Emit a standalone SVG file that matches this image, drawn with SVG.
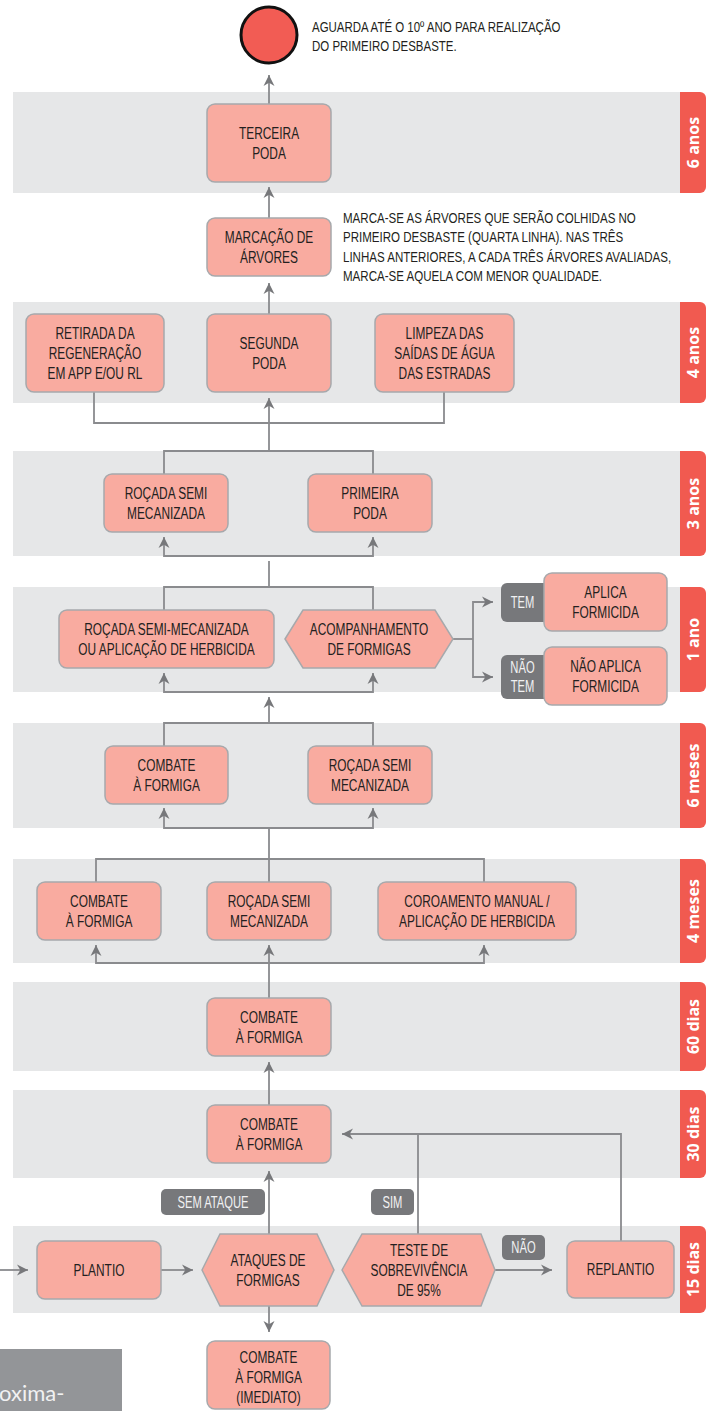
<svg xmlns="http://www.w3.org/2000/svg" width="715" height="1411" viewBox="0 0 715 1411">
<defs>
<style>
.band{fill:#e6e7e8}
.tab{fill:#f15a50}
.tabt{font-family:'Open Sans','Noto Sans',sans-serif;font-weight:700;font-size:16px;fill:#ffffff;text-anchor:middle;dominant-baseline:central}
.box{fill:#f9aba0;stroke:#a7a9ac;stroke-width:1.5}
.t{font-family:'Liberation Sans',Arial,sans-serif;font-size:17px;fill:#231f20;text-anchor:middle}
.note{font-family:'Liberation Sans',Arial,sans-serif;font-size:15px;fill:#231f20}
.lab{fill:#77787b}
.lt{font-family:'Liberation Sans',Arial,sans-serif;font-size:16px;fill:#f1f1f2;text-anchor:middle}
.c{fill:none;stroke:#8a8b8e;stroke-width:1.8}
.a{marker-end:url(#arr)}
</style>
<marker id="arr" viewBox="0 0 10 10" refX="10" refY="5" markerWidth="11" markerHeight="12" markerUnits="userSpaceOnUse" orient="auto">
<path d="M0,0 L10,5 L0,10 L3,5 Z" fill="#77787b"/>
</marker>
</defs>

<g id="bands">
<rect class="band" x="13" y="92" width="677" height="101"/>
<path class="tab" d="M680,92 H700 a6,6 0 0 1 6,6 V187 a6,6 0 0 1 -6,6 H680 Z"/>
<text class="tabt" transform="translate(693,142.5) rotate(-90)">6 anos</text>
<rect class="band" x="13" y="302" width="677" height="101"/>
<path class="tab" d="M680,302 H700 a6,6 0 0 1 6,6 V397 a6,6 0 0 1 -6,6 H680 Z"/>
<text class="tabt" transform="translate(693,352.5) rotate(-90)">4 anos</text>
<rect class="band" x="13" y="451" width="677" height="105"/>
<path class="tab" d="M680,451 H700 a6,6 0 0 1 6,6 V550 a6,6 0 0 1 -6,6 H680 Z"/>
<text class="tabt" transform="translate(693,503.5) rotate(-90)">3 anos</text>
<rect class="band" x="13" y="587" width="677" height="105"/>
<path class="tab" d="M680,587 H700 a6,6 0 0 1 6,6 V686 a6,6 0 0 1 -6,6 H680 Z"/>
<text class="tabt" transform="translate(693,639.5) rotate(-90)">1 ano</text>
<rect class="band" x="13" y="723" width="677" height="105"/>
<path class="tab" d="M680,723 H700 a6,6 0 0 1 6,6 V822 a6,6 0 0 1 -6,6 H680 Z"/>
<text class="tabt" transform="translate(693,775.5) rotate(-90)">6 meses</text>
<rect class="band" x="13" y="859" width="677" height="104"/>
<path class="tab" d="M680,859 H700 a6,6 0 0 1 6,6 V957 a6,6 0 0 1 -6,6 H680 Z"/>
<text class="tabt" transform="translate(693,911) rotate(-90)">4 meses</text>
<rect class="band" x="13" y="982" width="677" height="89"/>
<path class="tab" d="M680,982 H700 a6,6 0 0 1 6,6 V1065 a6,6 0 0 1 -6,6 H680 Z"/>
<text class="tabt" transform="translate(693,1026.5) rotate(-90)">60 dias</text>
<rect class="band" x="13" y="1090" width="677" height="88"/>
<path class="tab" d="M680,1090 H700 a6,6 0 0 1 6,6 V1172 a6,6 0 0 1 -6,6 H680 Z"/>
<text class="tabt" transform="translate(693,1134) rotate(-90)">30 dias</text>
<rect class="band" x="13" y="1226" width="677" height="87"/>
<path class="tab" d="M680,1226 H700 a6,6 0 0 1 6,6 V1307 a6,6 0 0 1 -6,6 H680 Z"/>
<text class="tabt" transform="translate(693,1269.5) rotate(-90)">15 dias</text>
</g>

<g id="connectors">
<path class="c a" d="M269,104 V75"/>
<path class="c a" d="M269,218 V187"/>
<path class="c a" d="M269,314 V283"/>
<path class="c" d="M94,392 V423 H444 V392"/>
<path class="c a" d="M269,451 V398"/>
<path class="c" d="M164,474 V451 H373 V474"/>
<path class="c a" d="M269,556 H164 V537"/>
<path class="c a" d="M269,556 H373 V537"/>
<path class="c" d="M269,587 V561"/>
<path class="c" d="M164,610 V587 H373 V610"/>
<path class="c a" d="M269,692 H164 V673"/>
<path class="c a" d="M269,692 H373 V673"/>
<path class="c" d="M453,639 H473"/>
<path class="c a" d="M473,639 V602 H493"/>
<path class="c a" d="M473,639 V677 H493"/>
<path class="c a" d="M269,722 V697"/>
<path class="c" d="M164,746 V723 H373 V746"/>
<path class="c a" d="M269,828 H164 V808"/>
<path class="c a" d="M269,828 H373 V808"/>
<path class="c" d="M269,828 V882"/>
<path class="c" d="M96,882 V859 H484 V882"/>
<path class="c a" d="M269,963 H96 V945"/>
<path class="c a" d="M269,963 H484 V945"/>
<path class="c a" d="M269,998 V945"/>
<path class="c a" d="M269,1105 V1062"/>
<path class="c a" d="M269,1234 V1171"/>
<path class="c a" d="M621,1241 V1134 H342"/>
<path class="c" d="M418,1234 V1134"/>
<path class="c a" d="M269,1306 V1332"/>
<path class="c a" d="M0,1270 H28"/>
<path class="c a" d="M161,1270 H193"/>
<path class="c a" d="M495,1270 H552"/>
</g>

<g id="n_fim">
<circle cx="269" cy="35" r="28" fill="#f25c54" stroke="#111111" stroke-width="3"/>
<g transform="translate(312,0) scale(0.765,1)">
<text class="note" x="0" y="32">AGUARDA ATÉ O 10º ANO PARA REALIZAÇÃO</text>
<text class="note" x="0" y="51">DO PRIMEIRO DESBASTE.</text>
</g>
</g>

<g id="n_terceira">
<rect class="box" x="207" y="104" width="124" height="78" rx="8"/>
<g transform="translate(269,0) scale(0.7,1)">
<text class="t" x="0" y="139">TERCEIRA</text>
<text class="t" x="0" y="159">PODA</text>
</g>
</g>

<g id="n_marcacao">
<rect class="box" x="207" y="218" width="124" height="58" rx="8"/>
<g transform="translate(269,0) scale(0.7,1)">
<text class="t" x="0" y="243">MARCAÇÃO DE</text>
<text class="t" x="0" y="263">ÁRVORES</text>
</g>
</g>
<g id="n_nota">
<g transform="translate(343,0) scale(0.77,1)">
<text class="note" x="0" y="223">MARCA-SE AS ÁRVORES QUE SERÃO COLHIDAS NO</text>
<text class="note" x="0" y="242.5">PRIMEIRO DESBASTE (QUARTA LINHA). NAS TRÊS</text>
<text class="note" x="0" y="262">LINHAS ANTERIORES, A CADA TRÊS ÁRVORES AVALIADAS,</text>
<text class="note" x="0" y="281.5">MARCA-SE AQUELA COM MENOR QUALIDADE.</text>
</g>
</g>

<g id="n_retirada">
<rect class="box" x="26" y="314" width="138" height="78" rx="8"/>
<g transform="translate(95,0) scale(0.7,1)">
<text class="t" x="0" y="339">RETIRADA DA</text>
<text class="t" x="0" y="359">REGENERAÇÃO</text>
<text class="t" x="0" y="379">EM APP E/OU RL</text>
</g>
</g>
<g id="n_segunda">
<rect class="box" x="207" y="314" width="124" height="78" rx="8"/>
<g transform="translate(269,0) scale(0.7,1)">
<text class="t" x="0" y="349">SEGUNDA</text>
<text class="t" x="0" y="369">PODA</text>
</g>
</g>
<g id="n_limpeza">
<rect class="box" x="375" y="314" width="139" height="78" rx="8"/>
<g transform="translate(444.5,0) scale(0.7,1)">
<text class="t" x="0" y="339">LIMPEZA DAS</text>
<text class="t" x="0" y="359">SAÍDAS DE ÁGUA</text>
<text class="t" x="0" y="379">DAS ESTRADAS</text>
</g>
</g>

<g id="n_rocada3">
<rect class="box" x="104" y="474" width="124" height="58" rx="8"/>
<g transform="translate(166,0) scale(0.7,1)">
<text class="t" x="0" y="499">ROÇADA SEMI</text>
<text class="t" x="0" y="519">MECANIZADA</text>
</g>
</g>
<g id="n_primeira">
<rect class="box" x="308" y="474" width="124" height="58" rx="8"/>
<g transform="translate(370,0) scale(0.7,1)">
<text class="t" x="0" y="499">PRIMEIRA</text>
<text class="t" x="0" y="519">PODA</text>
</g>
</g>

<g id="n_rocada1">
<rect class="box" x="59" y="610" width="215" height="58" rx="8"/>
<g transform="translate(166.5,0) scale(0.7,1)">
<text class="t" x="0" y="635">ROÇADA SEMI-MECANIZADA</text>
<text class="t" x="0" y="655">OU APLICAÇÃO DE HERBICIDA</text>
</g>
</g>
<g id="n_acompanhamento">
<polygon class="box" points="285,639 303,610 435,610 453,639 435,668 303,668"/>
<g transform="translate(369,0) scale(0.7,1)">
<text class="t" x="0" y="635">ACOMPANHAMENTO</text>
<text class="t" x="0" y="655">DE FORMIGAS</text>
</g>
</g>
<g id="l_tem">
<rect class="lab" x="501" y="583" width="50" height="39" rx="6"/>
<g transform="translate(522.5,0) scale(0.7,1)">
<text class="lt" x="0" y="608">TEM</text>
</g>
</g>
<g id="n_aplica">
<rect class="box" x="544" y="573" width="123" height="58" rx="8"/>
<g transform="translate(605.5,0) scale(0.7,1)">
<text class="t" x="0" y="598">APLICA</text>
<text class="t" x="0" y="618">FORMICIDA</text>
</g>
</g>
<g id="l_naotem">
<rect class="lab" x="501" y="655" width="50" height="44" rx="6"/>
<g transform="translate(522.5,0) scale(0.7,1)">
<text class="lt" x="0" y="673">NÃO</text>
<text class="lt" x="0" y="692">TEM</text>
</g>
</g>
<g id="n_naoaplica">
<rect class="box" x="544" y="647" width="123" height="58" rx="8"/>
<g transform="translate(605.5,0) scale(0.7,1)">
<text class="t" x="0" y="672">NÃO APLICA</text>
<text class="t" x="0" y="692">FORMICIDA</text>
</g>
</g>

<g id="n_combate6m">
<rect class="box" x="105" y="746" width="123" height="58" rx="8"/>
<g transform="translate(166.5,0) scale(0.7,1)">
<text class="t" x="0" y="771">COMBATE</text>
<text class="t" x="0" y="791">À FORMIGA</text>
</g>
</g>
<g id="n_rocada6m">
<rect class="box" x="308" y="746" width="124" height="58" rx="8"/>
<g transform="translate(370,0) scale(0.7,1)">
<text class="t" x="0" y="771">ROÇADA SEMI</text>
<text class="t" x="0" y="791">MECANIZADA</text>
</g>
</g>

<g id="n_combate4m">
<rect class="box" x="37" y="882" width="124" height="58" rx="8"/>
<g transform="translate(99,0) scale(0.7,1)">
<text class="t" x="0" y="907">COMBATE</text>
<text class="t" x="0" y="927">À FORMIGA</text>
</g>
</g>
<g id="n_rocada4m">
<rect class="box" x="207" y="882" width="124" height="58" rx="8"/>
<g transform="translate(269,0) scale(0.7,1)">
<text class="t" x="0" y="907">ROÇADA SEMI</text>
<text class="t" x="0" y="927">MECANIZADA</text>
</g>
</g>
<g id="n_coroamento">
<rect class="box" x="378" y="882" width="198" height="58" rx="8"/>
<g transform="translate(477,0) scale(0.7,1)">
<text class="t" x="0" y="907">COROAMENTO MANUAL /</text>
<text class="t" x="0" y="927">APLICAÇÃO DE HERBICIDA</text>
</g>
</g>

<g id="n_combate60">
<rect class="box" x="207" y="998" width="124" height="58" rx="8"/>
<g transform="translate(269,0) scale(0.7,1)">
<text class="t" x="0" y="1023">COMBATE</text>
<text class="t" x="0" y="1043">À FORMIGA</text>
</g>
</g>
<g id="n_combate30">
<rect class="box" x="207" y="1105" width="124" height="58" rx="8"/>
<g transform="translate(269,0) scale(0.7,1)">
<text class="t" x="0" y="1130">COMBATE</text>
<text class="t" x="0" y="1150">À FORMIGA</text>
</g>
</g>

<g id="l_semataque">
<rect class="lab" x="161" y="1189" width="104" height="26" rx="5"/>
<g transform="translate(213,0) scale(0.7,1)">
<text class="lt" x="0" y="1208">SEM ATAQUE</text>
</g>
</g>
<g id="l_sim">
<rect class="lab" x="371" y="1189" width="43" height="26" rx="5"/>
<g transform="translate(392.5,0) scale(0.7,1)">
<text class="lt" x="0" y="1208">SIM</text>
</g>
</g>

<g id="n_plantio">
<rect class="box" x="37" y="1241" width="124" height="58" rx="8"/>
<g transform="translate(99,0) scale(0.7,1)">
<text class="t" x="0" y="1276">PLANTIO</text>
</g>
</g>
<g id="n_ataques">
<polygon class="box" points="202,1270 220,1234 317,1234 334,1270 317,1306 220,1306"/>
<g transform="translate(268,0) scale(0.7,1)">
<text class="t" x="0" y="1266">ATAQUES DE</text>
<text class="t" x="0" y="1286">FORMIGAS</text>
</g>
</g>
<g id="n_teste">
<polygon class="box" points="342,1270 362,1234 481,1234 495,1270 481,1306 362,1306"/>
<g transform="translate(419,0) scale(0.7,1)">
<text class="t" x="0" y="1256">TESTE DE</text>
<text class="t" x="0" y="1276">SOBREVIVÊNCIA</text>
<text class="t" x="0" y="1296">DE 95%</text>
</g>
</g>
<g id="l_nao">
<rect class="lab" x="502" y="1235" width="43" height="25" rx="5"/>
<g transform="translate(523.5,0) scale(0.7,1)">
<text class="lt" x="0" y="1253.5">NÃO</text>
</g>
</g>
<g id="n_replantio">
<rect class="box" x="567" y="1241" width="107" height="57" rx="8"/>
<g transform="translate(620.5,0) scale(0.7,1)">
<text class="t" x="0" y="1275.5">REPLANTIO</text>
</g>
</g>

<g id="n_imediato">
<rect class="box" x="207" y="1341" width="123" height="68" rx="8"/>
<g transform="translate(268.5,0) scale(0.7,1)">
<text class="t" x="0" y="1363.5">COMBATE</text>
<text class="t" x="0" y="1383.5">À FORMIGA</text>
<text class="t" x="0" y="1403.5">(IMEDIATO)</text>
</g>
</g>

<g id="n_rodape">
<rect x="0" y="1349" width="122" height="62" fill="#939598"/>
<text x="-1" y="1401" font-family="Lato,'Open Sans',sans-serif" font-size="22" fill="#f1f1f2">oxima-</text>
</g>
</svg>
